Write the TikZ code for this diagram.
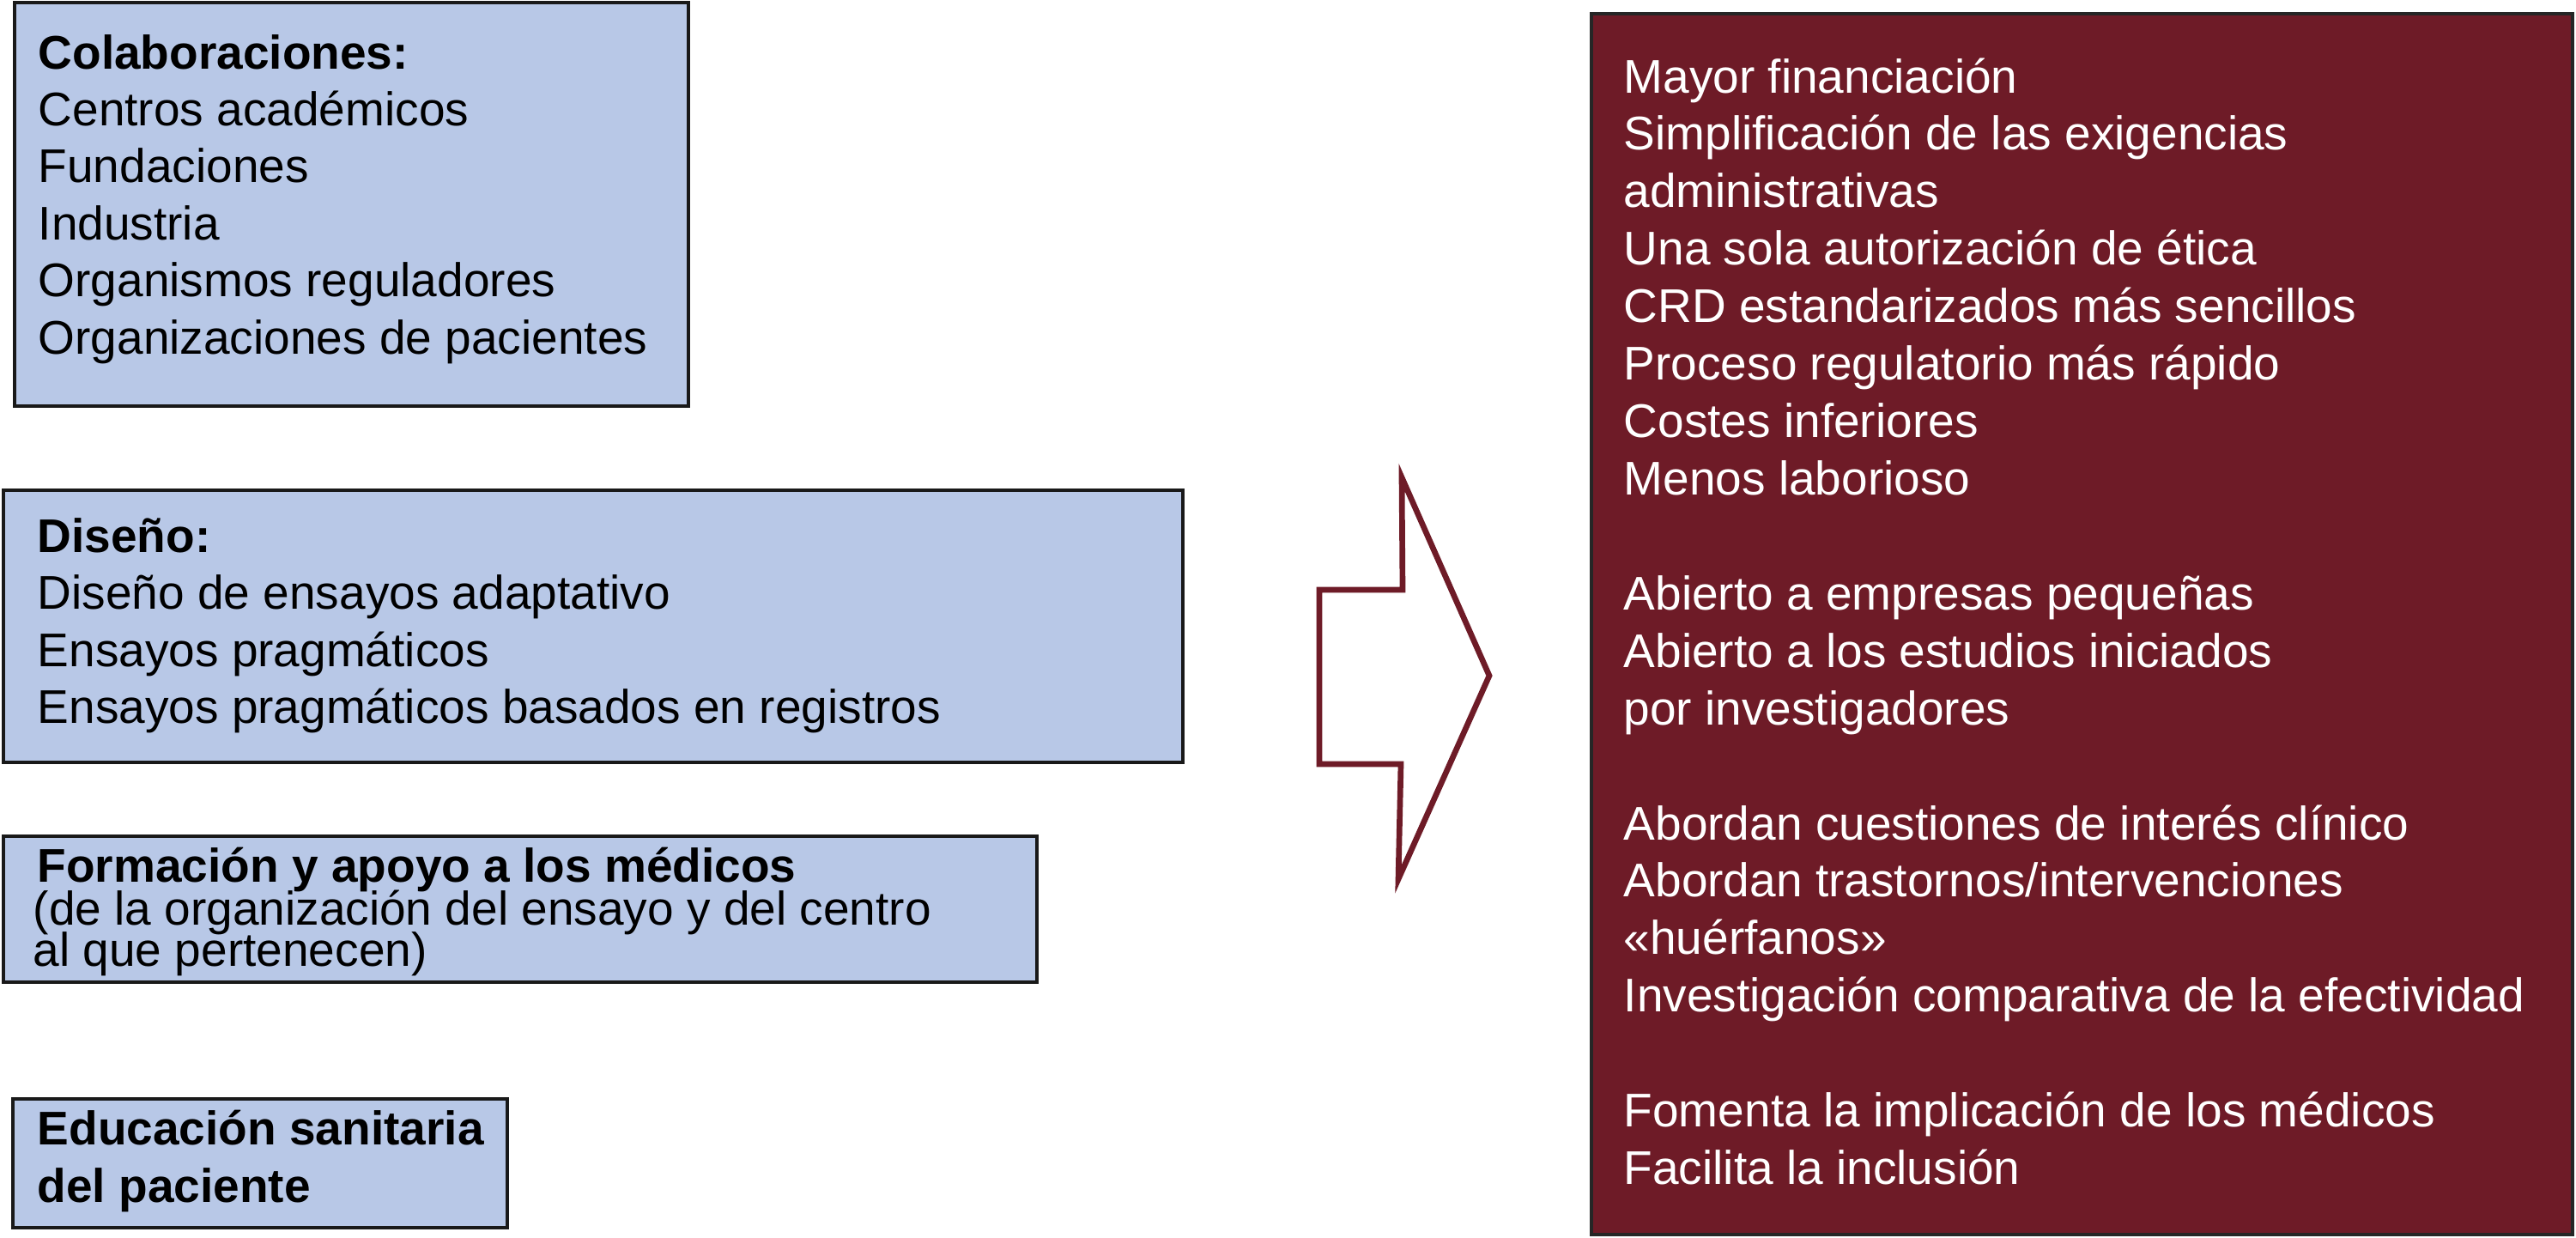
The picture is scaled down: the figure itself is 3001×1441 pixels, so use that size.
\documentclass[tikz,border=0pt]{standalone}
\usepackage{fontspec}
\setmainfont{Liberation Sans}
\definecolor{boxblue}{HTML}{B8C8E7}
\definecolor{darkred}{HTML}{6E1B27}
\newcommand\mylines[2]{\vtop{\baselineskip=#1\lineskiplimit=-\maxdimen #2}}
\begin{document}
\begin{tikzpicture}[x=0.01cm,y=-0.01cm,
  bluebox/.style={fill=boxblue,draw=black!90,line width=1.2pt},
  redbox/.style={fill=darkred,draw=black!85,line width=0.9pt},
  arrowshape/.style={fill=white,draw=darkred,line width=1.9pt,line join=miter},
  txt/.style={inner sep=0pt,anchor=base west,font=\fontsize{15.65pt}{18.95pt}\selectfont},
  wtxt/.style={txt,text=white},
]
\useasboundingbox (0,0) rectangle (3001,1441);
% left boxes
\path[bluebox] (17,3) rectangle (802,473);
\path[bluebox] (4,571) rectangle (1378,888);
\path[bluebox] (4,974) rectangle (1208,1144);
\path[bluebox] (15,1280) rectangle (591,1430);
% right box
\path[redbox] (1854,16) rectangle (2997,1438);
% arrow
\draw[arrowshape] (1537,687) -- (1634,687) -- (1633,556) -- (1735,787) -- (1629,1024) -- (1632,890) -- (1537,890) -- cycle;
% texts
\node[txt] (t1) at (44,80) {\mylines{18.9pt}{%
  \hbox{\bfseries Colaboraciones:}
  \hbox{Centros académicos}
  \hbox{Fundaciones}
  \hbox{Industria}
  \hbox{Organismos reguladores}
  \hbox{Organizaciones de pacientes}}};
\node[txt] (t2) at (43,643) {\mylines{18.95pt}{%
  \hbox{\bfseries Diseño:}
  \hbox{Diseño de ensayos adaptativo}
  \hbox{Ensayos pragmáticos}
  \hbox{Ensayos pragmáticos basados en registros}}};
\node[txt] (t3) at (43,1027) {\bfseries Formación y apoyo a los médicos};
\node[txt] (t3b) at (38,1077) {\mylines{13.8pt}{%
  \hbox{(de la organización del ensayo y del centro}
  \hbox{al que pertenecen)}}};
\node[txt] (t4) at (43,1333) {\mylines{19.06pt}{%
  \hbox{\bfseries Educación sanitaria}
  \hbox{\bfseries del paciente}}};
\node[wtxt] (t5) at (1891,108) {\mylines{19.03pt}{%
  \hbox{Mayor financiación}
  \hbox{Simplificación de las exigencias}
  \hbox{administrativas}
  \hbox{Una sola autorización de ética}
  \hbox{CRD estandarizados más sencillos}
  \hbox{Proceso regulatorio más rápido}
  \hbox{Costes inferiores}
  \hbox{Menos laborioso}
  \hbox{}
  \hbox{Abierto a empresas pequeñas}
  \hbox{Abierto a los estudios iniciados}
  \hbox{por investigadores}
  \hbox{}
  \hbox{Abordan cuestiones de interés clínico}
  \hbox{Abordan trastornos/intervenciones}
  \hbox{«huérfanos»}
  \hbox{Investigación comparativa de la efectividad}
  \hbox{}
  \hbox{Fomenta la implicación de los médicos}
  \hbox{Facilita la inclusión}}};
\end{tikzpicture}
\end{document}
